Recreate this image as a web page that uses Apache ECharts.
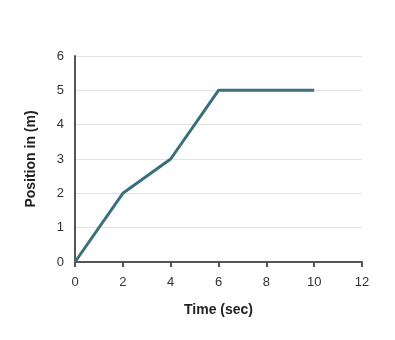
<!DOCTYPE html>
<html>
<head>
<meta charset="utf-8">
<script src="https://cdn.jsdelivr.net/npm/echarts@6/dist/echarts.min.js"></script>
<style>
  html, body { margin: 0; padding: 0; background: #fff; }
  #chart { width: 395px; height: 340px; }
</style>
</head>
<body>
<div id="chart"></div>
<script>
// Position over time
const timeSec = [0, 2, 4, 6, 10];
const positionM = [0, 2, 3, 5, 5];

const points = timeSec.map((t, i) => [t, positionM[i]]);

const chart = echarts.init(document.getElementById('chart'));
chart.setOption({
  animation: false,
  grid: { left: 75, right: 33, top: 56, bottom: 78 },
  xAxis: {
    type: 'value',
    min: 0, max: 12, interval: 2,
    name: 'Time (sec)',
    nameLocation: 'middle',
    nameGap: 41,
    nameTextStyle: { fontFamily: 'Liberation Sans, Arial, sans-serif', fontSize: 14, fontWeight: 'bold', color: '#222' },
    axisLine: { lineStyle: { color: '#555', width: 2 } },
    axisTick: { show: true, length: 5, lineStyle: { color: '#555', width: 2 } },
    axisLabel: { fontFamily: 'Liberation Sans, Arial, sans-serif', fontSize: 13, color: '#333', margin: 14 },
    splitLine: { show: false }
  },
  yAxis: {
    type: 'value',
    min: 0, max: 6, interval: 1,
    name: 'Position in (m)',
    nameLocation: 'middle',
    nameGap: 37,
    nameTextStyle: { fontFamily: 'Liberation Sans, Arial, sans-serif', fontSize: 14, fontWeight: 'bold', color: '#222' },
    axisLine: { show: true, lineStyle: { color: '#555', width: 2 } },
    axisTick: { show: false },
    axisLabel: { fontFamily: 'Liberation Sans, Arial, sans-serif', fontSize: 13, color: '#333', margin: 11 },
    splitLine: { show: true, lineStyle: { color: '#e3e3e3', width: 1 } }
  },
  series: [{
    type: 'line',
    data: points,
    symbol: 'none',
    lineStyle: { color: '#3a6f7c', width: 3 }
  }]
});
</script>
</body>
</html>
